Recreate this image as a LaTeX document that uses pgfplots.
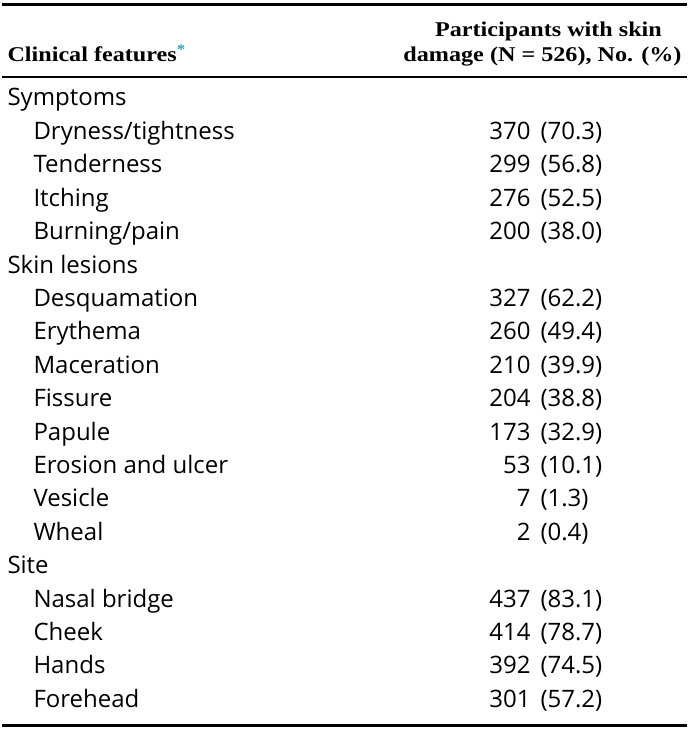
\documentclass[border=0pt]{standalone}
\usepackage{pgfplots}
\usepackage{pgfplotstable}
\pgfplotsset{compat=1.18}
\usepackage{fontspec}
\setmainfont{Open Sans}
\newfontfamily\hdr[FakeStretch=1.15]{Liberation Serif}
\definecolor{ast}{RGB}{40,160,180}

\pgfplotstableread[col sep=semicolon]{
x;y;label
6;106;Symptoms
32;139.4;Dryness/tightness
32;172.8;Tenderness
32;206.2;Itching
32;239.6;Burning/pain
6;273;Skin lesions
32;306.4;Desquamation
32;339.8;Erythema
32;373.2;Maceration
32;406.6;Fissure
32;440;Papule
32;473.4;Erosion and ulcer
32;506.8;Vesicle
32;540.2;Wheal
6;573.6;Site
32;607;Nasal bridge
32;640.4;Cheek
32;673.8;Hands
32;707.2;Forehead
}\rowlabels

\pgfplotstableread[col sep=semicolon]{
x;y;n;pct
529;139.4;370;(70.3)
529;172.8;299;(56.8)
529;206.2;276;(52.5)
529;239.6;200;(38.0)
529;306.4;327;(62.2)
529;339.8;260;(49.4)
529;373.2;210;(39.9)
529;406.6;204;(38.8)
529;440;173;(32.9)
529;473.4;53;(10.1)
529;506.8;7;(1.3)
529;540.2;2;(0.4)
529;607;437;(83.1)
529;640.4;414;(78.7)
529;673.8;392;(74.5)
529;707.2;301;(57.2)
}\values

\begin{document}
\begin{tikzpicture}
\begin{axis}[
  width=685pt, height=730pt, scale only axis,
  xmin=0, xmax=685, ymin=0, ymax=730, y dir=reverse,
  hide axis, clip=false,
  every node near coord/.append style={inner sep=0pt, outer sep=0pt},
]
\addplot[draw=none] coordinates {(0,0) (685,730)};
% rules
\addplot[black, line width=3pt] coordinates {(0,4.5) (685,4.5)};
\addplot[black, line width=2pt] coordinates {(0,77) (685,77)};
\addplot[black, line width=3pt] coordinates {(0,725) (685,725)};
% row labels
\addplot[only marks, mark=*, mark size=0pt, mark options={draw=none,fill=none},
  point meta=explicit symbolic, nodes near coords,
  every node near coord/.append style={anchor=base west, font=\fontsize{24}{28}\selectfont}]
  table[x=x, y=y, meta=label] {\rowlabels};
% counts
\addplot[only marks, mark=*, mark size=0pt, mark options={draw=none,fill=none},
  point meta=explicit symbolic, nodes near coords,
  every node near coord/.append style={anchor=base east, font=\fontsize{24}{28}\selectfont}]
  table[x=x, y=y, meta=n] {\values};
% percentages
\addplot[only marks, mark=*, mark size=0pt, mark options={draw=none,fill=none},
  point meta=explicit symbolic, nodes near coords,
  every node near coord/.append style={anchor=base west, xshift=10pt, font=\fontsize{24}{28}\selectfont}]
  table[x=x, y=y, meta=pct] {\values};
% header
\addplot[only marks, mark=*, mark size=0pt, mark options={draw=none,fill=none},
  point meta=explicit symbolic, nodes near coords,
  every node near coord/.append style={anchor=base, font=\hdr\bfseries\fontsize{21}{24}\selectfont}]
  table[x=x, y=y, meta=label] {
x y label
547 37 {Participants with skin}
};
\addplot[only marks, mark=*, mark size=0pt, mark options={draw=none,fill=none},
  point meta=explicit symbolic, nodes near coords,
  every node near coord/.append style={anchor=base east, font=\hdr\bfseries\fontsize{21}{24}\selectfont}]
  table[x=x, y=y, meta=label] {
x y label
680 62 {damage (N = 526), No. (\%)}
};
\addplot[only marks, mark=*, mark size=0pt, mark options={draw=none,fill=none},
  point meta=explicit symbolic, nodes near coords,
  every node near coord/.append style={anchor=base west, font=\hdr\bfseries\fontsize{21}{24}\selectfont}]
  table[x=x, y=y, meta=label] {
x y label
6 62 {Clinical features\textcolor{ast}{\textsuperscript{*}}}
};
\end{axis}
\end{tikzpicture}
\end{document}
